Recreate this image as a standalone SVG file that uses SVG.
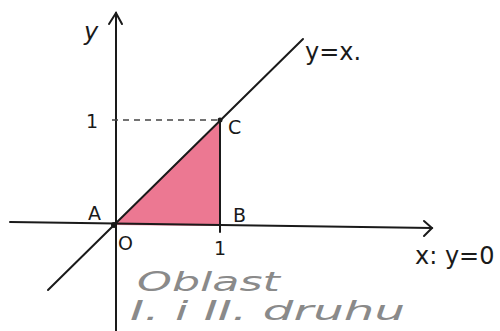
<svg xmlns="http://www.w3.org/2000/svg" width="500" height="331" viewBox="0 0 500 331">
<style>
.ln{stroke:#1a1a1a;stroke-width:2;fill:none;stroke-linecap:round}
.lb{font-family:"DejaVu Sans",sans-serif;fill:#1a1a1a}
.gr{font-family:"DejaVu Sans",sans-serif;fill:#8a8a8a;font-style:italic;font-weight:300}
</style>
<rect width="500" height="331" fill="#ffffff"/>
<g id="region">
<polygon points="114,225 220,120 220,226" fill="#e9607f" fill-opacity="0.85"/>
</g>
<g id="connectors">
<path class="ln" d="M10,222 L432,228"/>
<path class="ln" d="M424,221 L432,228 L424,236"/>
<path class="ln" d="M116,331 L116,13"/>
<path class="ln" d="M109,24 L116,13 L122,24"/>
<path class="ln" d="M48,290 L303,39"/>
<path class="ln" d="M220,120 L220,232"/>
<path d="M112,120 L220,120" stroke="#444" stroke-width="1.3" stroke-dasharray="6,5" fill="none"/>
<circle cx="114" cy="225" r="3" fill="#1a1a1a"/>
<circle cx="220" cy="120" r="2.5" fill="#1a1a1a"/>
</g>
<g id="labels">
<text class="lb" x="84" y="40" font-size="24" font-style="italic">y</text>
<text class="lb" x="86" y="128" font-size="19">1</text>
<text class="lb" x="228" y="134" font-size="19">C</text>
<text class="lb" x="88" y="220" font-size="19">A</text>
<text class="lb" x="233" y="222" font-size="19">B</text>
<text class="lb" x="118" y="250" font-size="19">O</text>
<text class="lb" x="214" y="255" font-size="19">1</text>
<text class="lb" x="305" y="60" font-size="24">y=x.</text>
<text class="lb" x="415" y="264" font-size="24">x: y=0</text>
</g>
<g id="caption">
<text class="gr" x="137" y="291" font-size="27" textLength="143" lengthAdjust="spacingAndGlyphs">Oblast</text>
<text class="gr" x="130" y="320" font-size="27" textLength="275" lengthAdjust="spacingAndGlyphs">I. i II. druhu</text>
</g>
</svg>
